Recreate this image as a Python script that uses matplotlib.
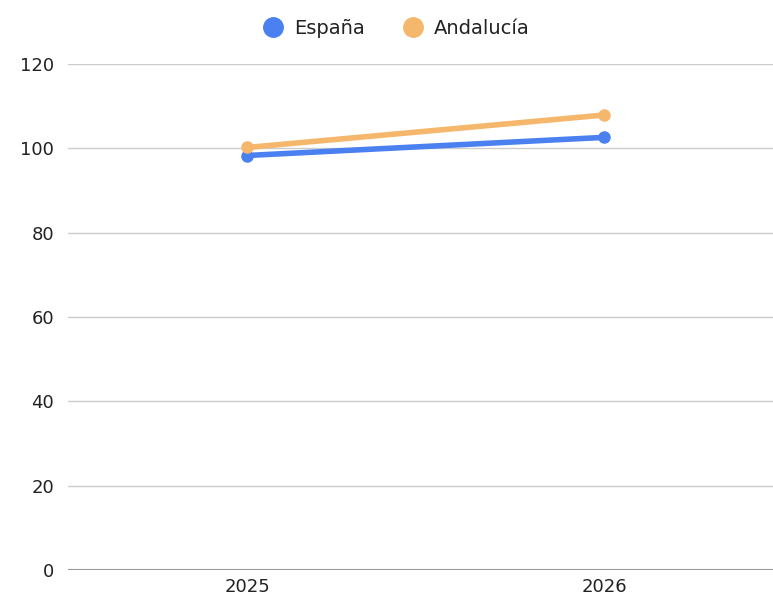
import matplotlib
matplotlib.use("Agg")
import matplotlib.pyplot as plt
from matplotlib.lines import Line2D

years = ["2025", "2026"]
espana = [98.3, 102.6]
andalucia = [100.2, 107.9]
yticks = [0, 20, 40, 60, 80, 100, 120]

plt.rcParams['font.family'] = ['DejaVu Sans']

fig = plt.figure(figsize=(7.73, 5.96), dpi=100)
ax = fig.add_axes([68/773, 26/596, 1 - 68/773, (570-64)/596])

blue = "#4a80f0"
orange = "#f5b76b"
x = list(range(len(years)))
ax.plot(x, espana, color=blue, lw=4, marker="o", ms=8, zorder=3, solid_capstyle="round")
ax.plot(x, andalucia, color=orange, lw=4, marker="o", ms=8, zorder=4, solid_capstyle="round")

ax.set_xlim(-0.5014, 1.473)
ax.set_ylim(0, 120)
ax.set_yticks(yticks)
ax.set_yticklabels([str(v) for v in yticks])
ax.set_xticks(x)
ax.set_xticklabels(years)
ax.tick_params(length=0, labelsize=13, colors="#222222")
ax.tick_params(axis="y", pad=10)
ax.tick_params(axis="x", pad=6)
for v in yticks[1:]:
    ax.axhline(v, color="#cccccc", lw=1, zorder=1)
ax.axhline(0, color="#999999", lw=1.5, zorder=2)
for s in ax.spines.values():
    s.set_visible(False)

handles = [Line2D([], [], ls="none", marker="o", ms=14, color=blue),
           Line2D([], [], ls="none", marker="o", ms=14, color=orange)]
fig.legend(handles, ["España", "Andalucía"], loc="center", bbox_to_anchor=(0.507, 1 - 28/596),
           ncol=2, frameon=False, fontsize=14, handletextpad=0.1, columnspacing=1.45,
           labelcolor="#222222")

fig.savefig("out.png", dpi=100)
